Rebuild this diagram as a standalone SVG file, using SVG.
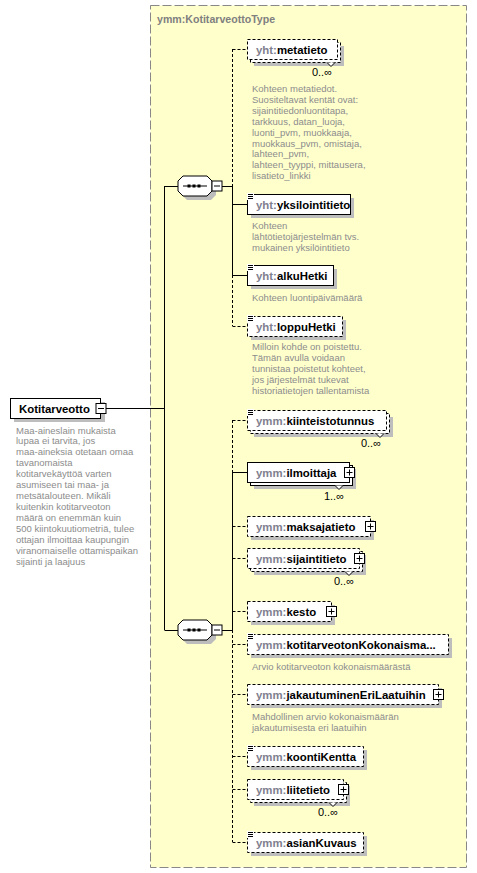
<svg xmlns="http://www.w3.org/2000/svg" width="477" height="873" viewBox="0 0 477 873">
<style>
.bg{fill:#ffffcc;stroke:#888;stroke-width:1;stroke-dasharray:9,3}
.ttl{font-family:"Liberation Sans",Arial,sans-serif;font-size:10.6px;font-weight:bold;fill:#808080}
.bx{fill:#fff;stroke:#000;stroke-width:1}
.d{stroke-dasharray:3,2}
.sh{fill:#bdbdbd}
.nm{font-family:"Liberation Sans",Arial,sans-serif;font-size:11.4px;font-weight:bold;fill:#000}
.pre{fill:#80808f}
.ds{font-family:"Liberation Sans",Arial,sans-serif;font-size:9.5px;fill:#8c8c8c}
.oc{font-family:"Liberation Sans",Arial,sans-serif;font-size:11px;fill:#000;text-anchor:end}
.ln{stroke:#000;stroke-width:1;fill:none}
.sym{fill:#fff;stroke:#000;stroke-width:1}
.ic{stroke:#000;stroke-width:1}
</style>
<defs>
<g id="plus"><rect class="sym" x="0" y="0" width="10" height="10"/><path class="ic" d="M2,5H8M5,2V8"/></g>
<g id="minus"><rect class="sym" x="0" y="0" width="10" height="10"/><path class="ic" d="M2,5H8"/></g>
<g id="icon"><rect x="0" y="-2" width="7" height="7" fill="#fff"/><path class="ic" d="M1,-0.5H6M1,1.5H6M1,3.5H6"/></g>
<g id="seq"><path class="sh" d="M187,180H211L216,185V195L211,200H187L182,195V185Z"/><path class="sym" d="M183,176H207L212,181V191L207,196H183L178,191V181Z"/><path class="ic" d="M183,186H207"/><rect x="187.5" y="184.5" width="3" height="3" fill="#000"/><rect x="192.5" y="184.5" width="3" height="3" fill="#000"/><rect x="197.5" y="184.5" width="3" height="3" fill="#000"/><use href="#minus" x="212" y="181"/></g>
</defs>

<g id="type">
<rect class="bg" x="150.5" y="5.5" width="316" height="862"/>
<text class="ttl" x="157" y="23">ymm:KotitarveottoType</text>
</g>

<g id="connectors">
<path class="ln" d="M106,408.5H164.5M164.5,186V630M164.5,186.5H178M164.5,630.5H178"/>
<path class="ln" d="M222,186.5H232.5M222,630.5H232.5"/>
<path class="ln d" d="M232.5,49V186M232.5,49.5H247"/>
<path class="ln" d="M232.5,186V275M232.5,204.5H247M232.5,275.5H247"/>
<path class="ln d" d="M232.5,275V326M232.5,326.5H247"/>
<path class="ln d" d="M232.5,420V472M232.5,420.5H247"/>
<path class="ln" d="M232.5,472V630M232.5,472.5H247"/>
<path class="ln d" d="M232.5,630V842M232.5,526.5H247M232.5,558.5H247M232.5,611.5H247M232.5,644.5H247M232.5,694.5H247M232.5,756.5H247M232.5,789.5H247M232.5,842.5H247"/>
</g>

<g id="Kotitarveotto">
<rect class="sh" x="14" y="402" width="91" height="20"/>
<rect class="bx" x="10.5" y="398.5" width="90" height="20"/>
<use href="#minus" x="96" y="403.5"/>
<text class="nm" x="19" y="412.5">Kotitarveotto</text>
<text class="ds" x="16">
<tspan x="16" y="433.5">Maa-aineslain mukaista</tspan>
<tspan x="16" y="444.4">lupaa ei tarvita, jos</tspan>
<tspan x="16" y="455.4">maa-aineksia otetaan omaa</tspan>
<tspan x="16" y="466.3">tavanomaista</tspan>
<tspan x="16" y="477.3">kotitarvekäyttöä  varten</tspan>
<tspan x="16" y="488.2">asumiseen tai maa- ja</tspan>
<tspan x="16" y="499.2">metsätalouteen. Mikäli</tspan>
<tspan x="16" y="510.1">kuitenkin kotitarveoton</tspan>
<tspan x="16" y="521.1">määrä on enemmän kuin</tspan>
<tspan x="16" y="532">500 kiintokuutiometriä, tulee</tspan>
<tspan x="16" y="543">ottajan ilmoittaa kaupungin</tspan>
<tspan x="16" y="553.9">viranomaiselle ottamispaikan</tspan>
<tspan x="16" y="564.9">sijainti ja laajuus</tspan>
</text>
</g>

<g id="seq1"><use href="#seq"/></g>
<g id="seq2"><use href="#seq" y="444"/></g>

<g id="metatieto">
<rect class="sh" x="254" y="46" width="90" height="20"/>
<rect class="bx d" x="250.5" y="42.5" width="90" height="20"/>
<rect class="bx d" x="247.5" y="39.5" width="90" height="20"/>
<path class="sym" d="M327,62.5l4,4l4,-4"/>
<text class="nm" x="256" y="53.5"><tspan class="pre">yht:</tspan>metatieto</text>
<text class="oc" x="332" y="76">0..∞</text>
<text class="ds">
<tspan x="252" y="92">Kohteen metatiedot.</tspan>
<tspan x="252" y="102.9">Suositeltavat kentät ovat:</tspan>
<tspan x="252" y="113.8">sijaintitiedonluontitapa,</tspan>
<tspan x="252" y="124.7">tarkkuus, datan_luoja,</tspan>
<tspan x="252" y="135.6">luonti_pvm, muokkaaja,</tspan>
<tspan x="252" y="146.5">muokkaus_pvm, omistaja,</tspan>
<tspan x="252" y="157.4">lahteen_pvm,</tspan>
<tspan x="252" y="168.3">lahteen_tyyppi, mittausera,</tspan>
<tspan x="252" y="179.2">lisatieto_linkki</tspan>
</text>
</g>

<g id="yksilointitieto">
<rect class="sh" x="251" y="198" width="103" height="20"/>
<rect class="bx" x="247.5" y="194.5" width="103" height="20"/>
<use href="#icon" x="247" y="195"/>
<text class="nm" x="256" y="208.5"><tspan class="pre">yht:</tspan>yksilointitieto</text>
<text class="ds"><tspan x="252" y="229">Kohteen</tspan><tspan x="252" y="240">lähtötietojärjestelmän  tvs.</tspan><tspan x="252" y="251">mukainen yksilöintitieto</tspan></text>
</g>

<g id="alkuHetki">
<rect class="sh" x="251" y="269" width="86" height="20"/>
<rect class="bx" x="247.5" y="265.5" width="86" height="20"/>
<use href="#icon" x="247" y="266"/>
<text class="nm" x="256" y="279.5"><tspan class="pre">yht:</tspan>alkuHetki</text>
<text class="ds" x="252" y="301">Kohteen luontipäivämäärä</text>
</g>

<g id="loppuHetki">
<rect class="sh" x="251" y="320" width="95" height="20"/>
<rect class="bx d" x="247.5" y="316.5" width="95" height="20"/>
<use href="#icon" x="247" y="317"/>
<text class="nm" x="256" y="330.5"><tspan class="pre">yht:</tspan>loppuHetki</text>
<text class="ds"><tspan x="252" y="350">Milloin kohde on poistettu.</tspan><tspan x="252" y="361">Tämän avulla voidaan</tspan><tspan x="252" y="372">tunnistaa poistetut kohteet,</tspan><tspan x="252" y="383">jos järjestelmät tukevat</tspan><tspan x="252" y="394">historiatietojen tallentamista</tspan></text>
</g>

<g id="kiinteistotunnus">
<rect class="sh" x="254" y="417" width="139" height="20"/>
<rect class="bx d" x="250.5" y="413.5" width="139" height="20"/>
<rect class="bx d" x="247.5" y="410.5" width="139" height="20"/>
<path class="sym" d="M376,433.5l4,4l4,-4"/>
<use href="#icon" x="247" y="411"/>
<text class="nm" x="256" y="424.5"><tspan class="pre">ymm:</tspan>kiinteistotunnus</text>
<text class="oc" x="381" y="447">0..∞</text>
</g>

<g id="ilmoittaja">
<rect class="sh" x="254" y="469" width="102" height="20"/>
<rect class="bx" x="250.5" y="465.5" width="102" height="20"/>
<rect class="bx" x="247.5" y="462.5" width="102" height="20"/>
<path class="sym" d="M335,485.5l4,4l4,-4"/>
<use href="#plus" x="344.5" y="467.5"/>
<text class="nm" x="256" y="476.5"><tspan class="pre">ymm:</tspan>ilmoittaja</text>
<text class="oc" x="344" y="500">1..∞</text>
</g>

<g id="maksajatieto">
<rect class="sh" x="251" y="520" width="123" height="20"/>
<rect class="bx d" x="247.5" y="516.5" width="123" height="20"/>
<use href="#plus" x="365.5" y="521.5"/>
<text class="nm" x="256" y="530.5"><tspan class="pre">ymm:</tspan>maksajatieto</text>
</g>

<g id="sijaintitieto">
<rect class="sh" x="254" y="555" width="112" height="20"/>
<rect class="bx d" x="250.5" y="551.5" width="112" height="20"/>
<rect class="bx d" x="247.5" y="548.5" width="112" height="20"/>
<path class="sym" d="M345,571.5l4,4l4,-4"/>
<use href="#plus" x="354.5" y="553.5"/>
<text class="nm" x="256" y="562.5"><tspan class="pre">ymm:</tspan>sijaintitieto</text>
<text class="oc" x="354" y="585">0..∞</text>
</g>

<g id="kesto">
<rect class="sh" x="251" y="605" width="84" height="20"/>
<rect class="bx d" x="247.5" y="601.5" width="84" height="20"/>
<use href="#plus" x="326.5" y="606.5"/>
<text class="nm" x="256" y="615.5"><tspan class="pre">ymm:</tspan>kesto</text>
</g>

<g id="kotitarveotonKokonaismaara">
<rect class="sh" x="251" y="638" width="201" height="20"/>
<rect class="bx d" x="247.5" y="634.5" width="201" height="20"/>
<use href="#icon" x="247" y="635"/>
<text class="nm" x="256" y="648.5"><tspan class="pre">ymm:</tspan>kotitarveotonKokonaisma...</text>
<text class="ds" x="252" y="670">Arvio kotitarveoton kokonaismäärästä</text>
</g>

<g id="jakautuminenEriLaatuihin">
<rect class="sh" x="251" y="688" width="191" height="20"/>
<rect class="bx d" x="247.5" y="684.5" width="191" height="20"/>
<use href="#plus" x="433.5" y="689.5"/>
<text class="nm" x="256" y="698.5"><tspan class="pre">ymm:</tspan>jakautuminenEriLaatuihin</text>
<text class="ds"><tspan x="252" y="720">Mahdollinen arvio kokonaismäärän</tspan><tspan x="252" y="731">jakautumisesta eri laatuihin</tspan></text>
</g>

<g id="koontiKentta">
<rect class="sh" x="251" y="750" width="116" height="20"/>
<rect class="bx d" x="247.5" y="746.5" width="116" height="20"/>
<use href="#icon" x="247" y="747"/>
<text class="nm" x="256" y="760.5"><tspan class="pre">ymm:</tspan>koontiKentta</text>
</g>

<g id="liitetieto">
<rect class="sh" x="254" y="786" width="96" height="20"/>
<rect class="bx d" x="250.5" y="782.5" width="96" height="20"/>
<rect class="bx d" x="247.5" y="779.5" width="96" height="20"/>
<path class="sym" d="M329,802.5l4,4l4,-4"/>
<use href="#plus" x="338.5" y="784.5"/>
<text class="nm" x="256" y="793.5"><tspan class="pre">ymm:</tspan>liitetieto</text>
<text class="oc" x="338" y="816">0..∞</text>
</g>

<g id="asianKuvaus">
<rect class="sh" x="251" y="836" width="116" height="20"/>
<rect class="bx d" x="247.5" y="832.5" width="116" height="20"/>
<use href="#icon" x="247" y="833"/>
<text class="nm" x="256" y="846.5"><tspan class="pre">ymm:</tspan>asianKuvaus</text>
</g>
</svg>
